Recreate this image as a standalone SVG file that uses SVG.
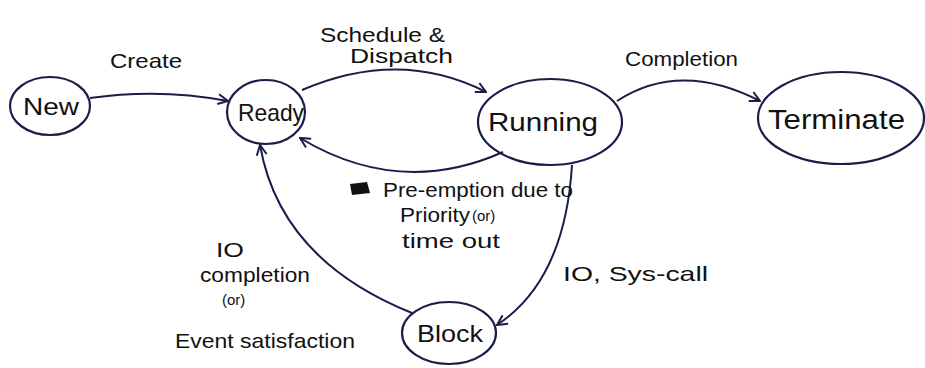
<svg xmlns="http://www.w3.org/2000/svg" width="925" height="368" viewBox="0 0 925 368">
  <style>
    .state { fill: none; stroke: #1c1c4a; stroke-width: 2.2; }
    .edge { fill: none; stroke: #1c1c4a; stroke-width: 2; }
    .name { font-family: "Liberation Sans", Arial, sans-serif; font-size: 24px; fill: #111; }
    .lbl { font-family: "Liberation Sans", Arial, sans-serif; font-size: 21px; fill: #111; }
    .sm { font-family: "Liberation Sans", Arial, sans-serif; font-size: 15px; fill: #111; }
  </style>
  <defs>
    <marker id="arrow" viewBox="0 0 12 12" refX="11" refY="6" markerWidth="12" markerHeight="12" markerUnits="userSpaceOnUse" orient="auto">
      <path d="M1 1 L11 6 L1 11" fill="none" stroke="#1c1c4a" stroke-width="2"/>
    </marker>
  </defs>
  <rect width="925" height="368" fill="#ffffff"/>

  <!-- transitions -->
  <g id="connectors">
    <path class="edge" d="M 90 98 Q 160 88 228 101" marker-end="url(#arrow)"/>
    <path class="edge" d="M 302 90 Q 400 48 486 92" marker-end="url(#arrow)"/>
    <path class="edge" d="M 503 152 Q 400 198 300 138" marker-end="url(#arrow)"/>
    <path class="edge" d="M 617 101 Q 680 60 760 101" marker-end="url(#arrow)"/>
    <path class="edge" d="M 572 165 Q 565 280 497 325" marker-end="url(#arrow)"/>
    <path class="edge" d="M 412 313 Q 280 260 260 145" marker-end="url(#arrow)"/>
  </g>

  <!-- states -->
  <g id="new">
    <ellipse class="state" cx="50" cy="106" rx="40" ry="29"/>
    <text class="name" x="23" y="115" textLength="56" lengthAdjust="spacingAndGlyphs">New</text>
  </g>
  <g id="ready">
    <ellipse class="state" cx="266" cy="112" rx="39" ry="32"/>
    <text class="name" x="238" y="121" textLength="66" lengthAdjust="spacingAndGlyphs">Ready</text>
  </g>
  <g id="running">
    <ellipse class="state" cx="550" cy="122" rx="72" ry="43"/>
    <text class="name" x="488" y="131" textLength="110" lengthAdjust="spacingAndGlyphs" style="font-size:26px">Running</text>
  </g>
  <g id="terminate">
    <ellipse class="state" cx="841" cy="118" rx="83" ry="46"/>
    <text class="name" x="768" y="129" textLength="137" lengthAdjust="spacingAndGlyphs" style="font-size:27px">Terminate</text>
  </g>
  <g id="block">
    <ellipse class="state" cx="449" cy="333" rx="47" ry="31"/>
    <text class="name" x="417" y="342" textLength="66" lengthAdjust="spacingAndGlyphs">Block</text>
  </g>

  <!-- transition labels -->
  <g id="labels">
    <text class="lbl" x="110" y="68" textLength="72" lengthAdjust="spacingAndGlyphs">Create</text>
    <text class="lbl" x="320" y="42" textLength="125" lengthAdjust="spacingAndGlyphs">Schedule &amp;</text>
    <text class="lbl" x="350" y="63" textLength="103" lengthAdjust="spacingAndGlyphs">Dispatch</text>
    <text class="lbl" x="625" y="66" textLength="113" lengthAdjust="spacingAndGlyphs">Completion</text>
    <path d="M 350 184 L 367 182 L 370 193 L 352 195 Z" fill="#111"/>
    <text class="lbl" x="383" y="197" textLength="190" lengthAdjust="spacingAndGlyphs">Pre-emption due to</text>
    <text class="lbl" x="400" y="222" textLength="70" lengthAdjust="spacingAndGlyphs">Priority</text>
    <text class="sm" x="472" y="221">(or)</text>
    <text class="lbl" x="402" y="248" textLength="98" lengthAdjust="spacingAndGlyphs">time out</text>
    <text class="lbl" x="216" y="257" textLength="28" lengthAdjust="spacingAndGlyphs">IO</text>
    <text class="lbl" x="200" y="282" textLength="110" lengthAdjust="spacingAndGlyphs">completion</text>
    <text class="sm" x="222" y="305">(or)</text>
    <text class="lbl" x="175" y="348" textLength="180" lengthAdjust="spacingAndGlyphs">Event satisfaction</text>
    <text class="lbl" x="563" y="281" textLength="145" lengthAdjust="spacingAndGlyphs">IO, Sys-call</text>
  </g>
</svg>
